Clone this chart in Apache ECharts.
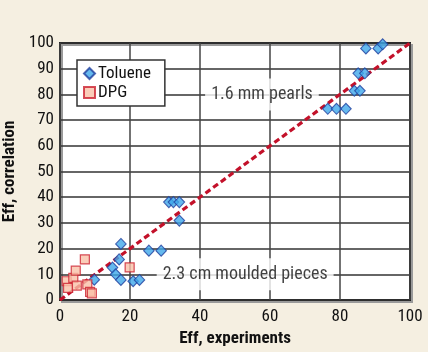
<!DOCTYPE html>
<html><head><meta charset="utf-8">
<script src="https://cdn.jsdelivr.net/npm/echarts@6/dist/echarts.min.js"></script>
<style>html,body{margin:0;padding:0;background:#f5efe1;}#c{width:428px;height:352px;}</style>
</head><body><div id="c"></div>
<script>
const toluene = [
  [9.8,7.9],[15.0,12.6],[15.9,10.0],[17.4,7.8],[16.9,15.8],[17.4,21.8],[20.9,7.3],[22.7,7.8],
  [25.4,19.2],[28.9,19.2],[31.1,38.1],[32.4,38.1],[34.1,38.1],[34.1,30.9],
  [76.5,74.4],[79.0,74.4],[81.7,74.4],[84.1,81.4],[85.7,81.4],[85.2,88.2],[87.1,88.2],
  [87.4,97.9],[90.9,97.9],[92.2,99.5]
];
const dpg = [
  [1.9,7.3],[2.3,4.7],[3.8,8.6],[4.5,11.4],[4.8,5.6],[7.1,15.8],[7.8,6.1],[8.6,3.2],[9.1,2.6],[19.9,12.7]
];
const parity = [[0,0],[100,100]];
const annotations = [
  {value:[57.7,80], text:'1.6 mm pearls'},
  {value:[52.9,10], text:'2.3 cm moulded pieces'}
];
const xTitle = 'Eff, experiments';
const yTitle = 'Eff, correlation';
const FONT = '"Liberation Sans Narrow","Roboto Condensed","DejaVu Sans Condensed",sans-serif';

const chart = echarts.init(document.getElementById('c'));
chart.setOption({
  backgroundColor:'#f5efe1',
  animation:false,
  textStyle:{fontFamily:FONT},
  grid:{left:60,right:18,top:43,bottom:52,show:true,backgroundColor:'#fff',borderColor:'#222',borderWidth:2,
        outerBoundsMode:'none',containLabel:false,
        shadowColor:'#9a9a9a',shadowOffsetX:2,shadowOffsetY:2,shadowBlur:0},
  legend:{left:77,top:60,orient:'vertical',backgroundColor:'#fff',borderColor:'#333',borderWidth:1.5,borderRadius:0,
          padding:[5,14,5,6],itemGap:2,itemWidth:11,itemHeight:11,
          textStyle:{fontFamily:FONT,fontSize:17,color:'#111',padding:[0,0,0,-2]},
          data:['Toluene','DPG']},
  xAxis:{type:'value',min:0,max:100,interval:20,name:xTitle,nameLocation:'middle',nameGap:27,
         nameTextStyle:{fontFamily:FONT,fontSize:17,fontWeight:'bold',color:'#111'},
         axisLine:{show:false},axisTick:{show:false},
         axisLabel:{fontFamily:FONT,fontSize:17,color:'#111',margin:8},
         splitLine:{lineStyle:{color:'#444',width:1.5}}},
  yAxis:{type:'value',min:0,max:100,interval:10,name:yTitle,nameLocation:'middle',nameGap:38,
         nameTextStyle:{fontFamily:FONT,fontSize:17,fontWeight:'bold',color:'#111'},
         axisLine:{show:false},axisTick:{show:false},
         axisLabel:{fontFamily:FONT,fontSize:17,color:'#111',margin:6},
         splitLine:{lineStyle:{color:'#333',width:1.5}}},
  series:[
    {type:'scatter',name:'annot',data:annotations.map(a=>({value:a.value,label:{formatter:a.text}})),
     symbolSize:0,silent:true,z:3,
     label:{show:true,position:'inside',fontFamily:FONT,fontSize:18,color:'#111',backgroundColor:'#fff',padding:[7,6,7,6]}},
    {type:'line',name:'parity',data:parity,showSymbol:false,symbol:'none',z:4,
     lineStyle:{color:'#c3112a',width:3.2,type:[6,3.5]}},
    {type:'scatter',name:'Toluene',data:toluene,symbol:'diamond',symbolSize:[10.5,11],z:5,
     itemStyle:{color:'#3fa7ea',borderColor:'#1f3e9e',borderWidth:1.1}},
    {type:'scatter',name:'DPG',data:dpg,symbol:'rect',symbolSize:9,z:5,
     itemStyle:{color:'#f9c0a8',borderColor:'#cc2030',borderWidth:1.2}}
  ]
});
</script></body></html>
